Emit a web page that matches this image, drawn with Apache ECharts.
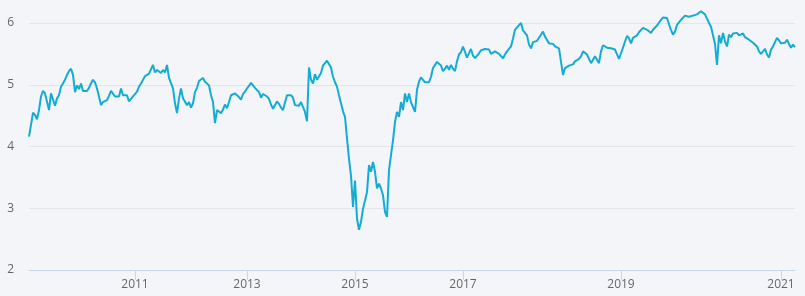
<!DOCTYPE html>
<html>
<head>
<meta charset="utf-8">
<script src="https://cdn.jsdelivr.net/npm/echarts@6/dist/echarts.min.js"></script>
<style>
  html, body, #main {
    margin: 0;
    padding: 0;
    width: 805px;
    height: 296px;
    overflow: hidden;
    background: #f3f5f8;
  }
</style>
</head>
<body>
<div id="main"></div>
<script>
// series values (one point every ~2px, mid 2009 -> early 2021)
const values = [
  4.16,4.35,4.55,4.51,4.44,4.59,4.81,4.90,4.86,4.83,
  4.59,4.86,4.88,4.66,4.78,4.83,4.97,5.02,5.08,5.16,
  5.22,5.26,5.16,4.88,4.99,4.93,5.02,4.90,4.92,4.90,
  4.95,5.02,5.08,5.04,4.94,4.81,4.67,4.72,4.75,4.75,
  4.82,4.90,4.88,4.81,4.78,4.81,4.94,4.83,
  4.85,4.83,4.73,4.73,4.81,4.85,4.89,4.97,5.02,5.04,
  5.14,5.14,5.18,5.17,5.32,5.20,5.24,5.21,5.19,5.24,
  5.20,5.32,5.11,5.08,4.94,4.70,4.54,4.78,4.94,4.78,
  4.81,4.67,4.72,4.63,4.70,4.88,4.95,5.06,5.05,5.11,
  5.05,5.04,4.99,4.83,4.72,4.38,4.59,4.61,
  4.54,4.60,4.68,4.62,4.72,4.83,4.86,4.86,4.83,4.80,
  4.76,4.85,4.89,4.94,4.98,5.03,5.02,4.95,4.92,4.88,
  4.79,4.85,4.86,4.81,4.77,4.68,4.61,4.62,4.73,4.69,
  4.63,4.59,4.61,4.83,4.80,4.83,4.79,4.67,4.70,4.66,
  4.72,4.69,4.56,4.41,5.28,5.08,5.02,5.17,
  5.08,5.05,5.19,5.31,5.35,5.39,5.42,5.28,5.13,5.04,
  4.97,4.83,4.70,4.57,4.48,4.13,3.80,3.53,3.02,3.45,
  2.83,2.65,2.78,2.99,3.00,3.26,3.70,3.59,3.75,3.59,
  3.32,3.40,3.32,3.21,2.94,2.86,3.62,3.86,4.10,4.40,
  4.56,4.48,4.72,4.59,4.86,4.72,4.86,4.72,
  4.75,4.56,4.92,5.05,5.12,5.15,5.04,5.07,5.04,5.13,
  5.27,5.27,5.37,5.40,5.31,5.22,5.26,5.31,5.24,5.32,
  5.26,5.22,5.38,5.49,5.53,5.62,5.60,5.44,5.47,5.58,
  5.47,5.43,5.41,5.51,5.56,5.54,5.58,5.55,5.57,5.50,
  5.52,5.54,5.52,5.50,5.47,5.43,5.49,5.54,
  5.54,5.62,5.75,5.89,5.93,5.92,6.00,5.88,5.84,5.80,
  5.65,5.59,5.69,5.67,5.71,5.76,5.81,5.86,5.78,5.75,
  5.67,5.69,5.66,5.62,5.64,5.59,5.57,5.16,5.27,5.30,
  5.31,5.32,5.33,5.38,5.40,5.42,5.46,5.54,5.57,5.49,
  5.51,5.35,5.38,5.46,5.47,5.35,5.54,5.64,
  5.64,5.60,5.58,5.59,5.61,5.57,5.56,5.42,5.51,5.60,
  5.70,5.79,5.75,5.67,5.76,5.75,5.80,5.85,5.84,5.92,
  5.90,5.89,5.86,5.84,5.89,5.91,5.96,5.99,6.05,6.09,
  6.11,6.08,5.98,5.89,5.81,5.86,5.97,5.98,6.05,6.04,
  6.12,6.12,6.10,6.08,6.12,6.11,6.14,6.16,
  6.19,6.21,6.14,6.07,6.00,5.94,5.80,5.66,5.32,5.80,
  5.67,5.84,5.70,5.62,5.81,5.77,5.83,5.86,5.84,5.80,
  5.77,5.83,5.77,5.79,5.73,5.72,5.68,5.65,5.62,5.54,
  5.50,5.49,5.58,5.49,5.44,5.57,5.62,5.61,5.76,5.72,
  5.67,5.64,5.68,5.73,5.66,5.60,5.65,5.61
];

// year labels and the point index where each one sits
const tickLabels = ["2011", "2013", "2015", "2017", "2019", "2021"];
const tickIndex = [53, 109, 163, 217, 296, 376];

const yTicks = [2, 3, 4, 5, 6];

const categories = values.map((v, i) => String(i));
const labelAt = {};
tickIndex.forEach((idx, n) => {
  labelAt[idx] = tickLabels[n];
});
const isTick = (i) => labelAt[i] !== undefined;

const myChart = echarts.init(document.getElementById("main"));
const option = {
  backgroundColor: "#f3f5f8",
  animation: false,
  textStyle: { fontFamily: "Open Sans" },
  grid: {
    left: 29,
    right: 10,
    top: 23,
    bottom: 26,
  },
  xAxis: {
    type: "category",
    boundaryGap: false,
    data: categories,
    axisLine: { lineStyle: { color: "#ccd6eb", width: 1 } },
    axisTick: {
      interval: isTick,
      length: 10,
      lineStyle: { color: "#ccd6eb" },
    },
    axisLabel: {
      interval: isTick,
      margin: 9,
      color: "#666666",
      fontSize: 12,
      formatter: (v) => labelAt[+v] || "",
    },
    splitLine: { show: false },
  },
  yAxis: {
    type: "value",
    min: yTicks[0],
    max: yTicks[yTicks.length - 1],
    interval: 1,
    axisLine: { show: false },
    axisTick: { show: false },
    axisLabel: { margin: 15, color: "#666666", fontSize: 12 },
    splitLine: { lineStyle: { color: "#e3e5e8", width: 1 } },
  },
  series: [
    {
      type: "line",
      data: values,
      showSymbol: false,
      clip: false,
      lineStyle: { color: "#12acd4", width: 2 },
      itemStyle: { color: "#12acd4" },
    },
  ],
};
myChart.setOption(option);
</script>
</body>
</html>
